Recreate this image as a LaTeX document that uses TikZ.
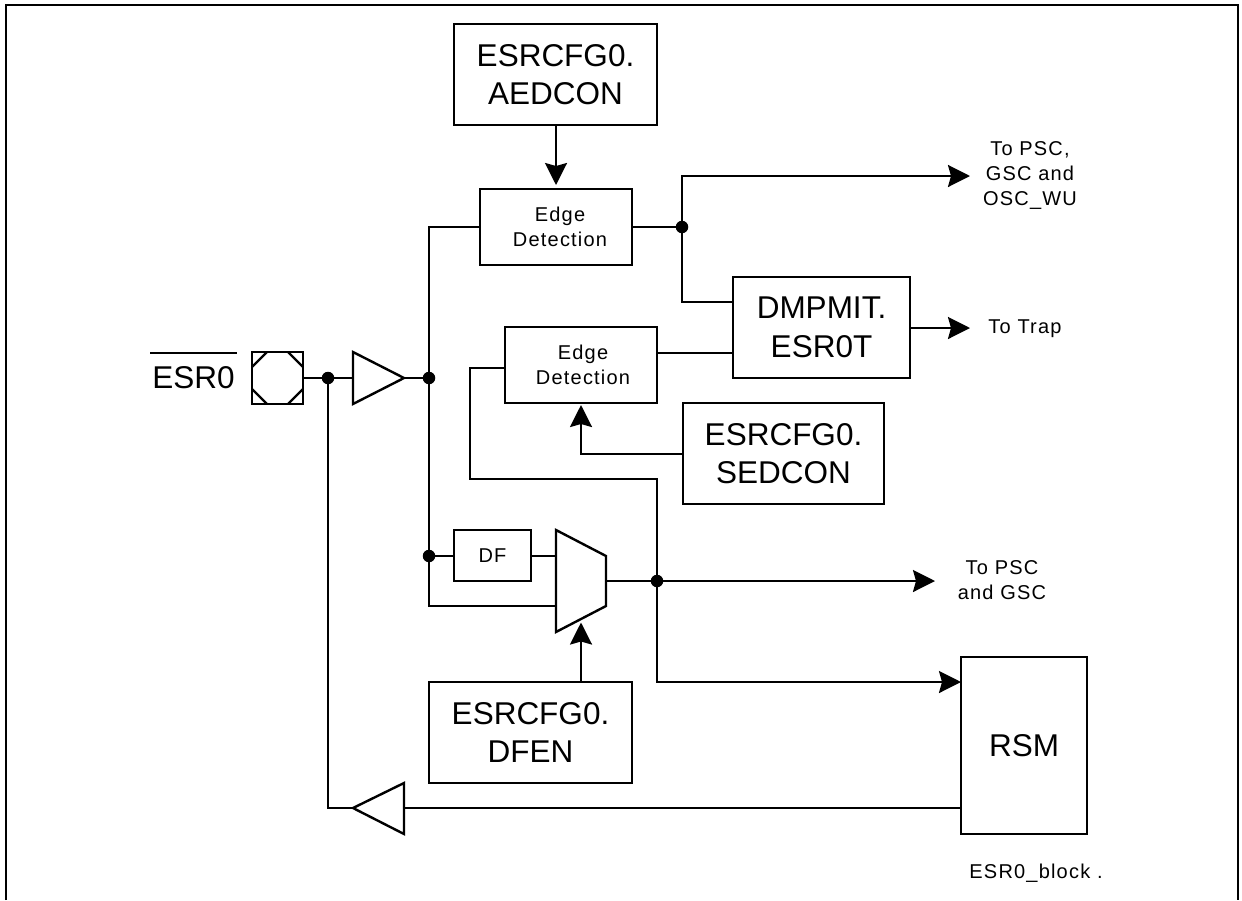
\documentclass[tikz,border=0pt]{standalone}
\usepackage{fontspec}
\setmainfont{Liberation Sans}
\newfontfamily\spaced[LetterSpace=6]{Liberation Sans}
\usetikzlibrary{arrows.meta,calc}
\newcommand{\bigtxt}{\fontsize{31.5}{38.5}\selectfont}
\newcommand{\smalltxt}{\spaced\fontsize{20}{25}\selectfont}
\tikzset{
  x=1pt,y=-1pt,
  wire/.style={draw=black,line width=2.4pt,line join=miter},
  arr/.style={wire,-{Stealth[length=22pt,width=22pt,inset=3pt]}},
  bx/.style={draw=black,line width=2.4pt,align=center,inner sep=0pt,outer sep=0pt},
  bigbox/.style={bx,font=\bigtxt},
  smallbox/.style={bx,font=\smalltxt},
  lbl/.style={align=center,inner sep=0pt,font=\smalltxt},
  dot/.style={circle,fill=black,draw=none,minimum size=12.5pt,inner sep=0pt,outer sep=0pt},
}
\newcommand{\boxat}[7]{\node[#1,minimum width=#5pt-#4pt,minimum height=#7pt-#6pt] (#2) at ({(#4+#5)/2},{(#6+#7)/2}) {#3};}
\begin{document}
\begin{tikzpicture}
\useasboundingbox (0,0) rectangle (1242,900);
% frame
\coordinate (fbl) at (6,900);
\coordinate (ftl) at (6,5);
\coordinate (ftr) at (1238,5);
\coordinate (fbr) at (1238,900);
\draw[wire] (fbl) -- (ftl) -- (ftr) -- (fbr);
% boxes
\boxat{bigbox}{aed}{ESRCFG0.\\AEDCON}{454}{657}{24}{125}
\boxat{smallbox}{edgea}{\hspace*{8pt}Edge\\\hspace*{8pt}Detection}{480}{632}{189}{265}
\boxat{smallbox}{edgeb}{\hspace*{4pt}Edge\\\hspace*{4pt}Detection}{505}{657}{327}{403}
\boxat{bigbox}{dmp}{DMPMIT.\\ESR0T}{733}{910}{277}{378}
\boxat{bigbox}{sed}{ESRCFG0.\\SEDCON}{683}{884}{403}{504}
\boxat{bigbox}{dfen}{ESRCFG0.\\DFEN}{429}{632}{682}{783}
\boxat{bigbox}{rsm}{RSM}{961}{1087}{657}{834}
\boxat{smallbox}{df}{DF}{454}{531}{530}{581}
% label ESR0
\node[inner sep=0pt,font=\fontsize{31.5}{33}\selectfont] (esr) at (193.5,378) {ESR0};
\coordinate (barl) at (150,353);
\coordinate (barr) at (237,353);
\draw[wire] (barl) -- (barr);
% pad
\coordinate (pa) at (252,352);
\coordinate (pb) at (303,352);
\coordinate (pc) at (303,404);
\coordinate (pd) at (252,404);
\draw[wire] (pa) -- (pb) -- (pc) -- (pd) -- cycle;
\draw[wire] (267,352) -- (252,367) (288,352) -- (303,367) (303,389) -- (288,404) (252,389) -- (267,404);
\coordinate (padout) at (303,378);
% buffers
\coordinate (bufi) at (353,378);
\coordinate (bufo) at (404,378);
\draw[wire] (353,352) -- (bufo) -- (353,404) -- cycle;
\coordinate (rbufo) at (353,808);
\coordinate (rbufi) at (404,808);
\draw[wire] (404,783) -- (rbufo) -- (404,834) -- cycle;
% mux
\coordinate (mui) at (556,556);
\coordinate (muj) at (556,606);
\coordinate (muo) at (606,581);
\draw[wire] (556,530) -- (606,556) -- (606,606) -- (556,632) -- cycle;
% junctions
\node[dot] (j1) at (328,378) {};
\node[dot] (j2) at (429,378) {};
\node[dot] (j3) at (429,556) {};
\node[dot] (j4) at (682,227) {};
\node[dot] (j5) at (657,581) {};
% free ends
\coordinate (tpsc) at (970,176);
\coordinate (ttrap) at (970,328);
\coordinate (tgsc) at (935,581);
\coordinate (mid) at (657,479);
\coordinate (midl) at (470,479);
\coordinate (ebin) at (edgeb.west |- 0,368);
\coordinate (dmpa) at (dmp.west |- 0,302);
\coordinate (dmpb) at (dmp.west |- 0,353);
\coordinate (sedp) at (sed.west |- 0,454);
\coordinate (rsmin) at (rsm.west |- 0,682);
\coordinate (muxs) at (581,622.5);
\coordinate (aedt) at (556,185);
\coordinate (sedt) at (581,405);
% wires
\draw[wire] (padout) -- (j1) -- (bufi);
\draw[wire] (bufo) -- (j2);
\draw[wire] (j1) |- (rbufo);
\draw[wire] (rbufi) -- (rbufi -| rsm.west);
\draw[wire] (edgea.west) -| (j2);
\draw[wire] (j2) -- (j3) |- (muj);
\draw[wire] (j3) -- (j3 -| df.west);
\draw[wire] (mui -| df.east) -- (mui);
\draw[wire] (edgea.east) -- (j4);
\draw[arr] (j4) |- (tpsc);
\draw[wire] (j4) |- (dmpa);
\draw[wire] (edgeb.east |- dmpb) -- (dmpb);
\draw[arr] (dmp.east |- ttrap) -- (ttrap);
\draw[arr] (aed.south -| aedt) -- (aedt);
\draw[arr] (sedp) -| (sedt);
\draw[wire] (ebin) -| (midl) -- (mid) -- (j5);
\draw[wire] (muo) -- (j5);
\draw[arr] (j5) -- (tgsc);
\draw[arr] (j5) |- (rsmin);
\draw[arr] (dfen.north -| muxs) -- (muxs);
% labels
\node[lbl] (l1) at (1030,176) {To PSC,\\GSC and\\OSC\_WU};
\node[lbl] (l2) at (1025,329) {To Trap};
\node[lbl] (l3) at (1002,580) {To PSC\\and GSC};
\node[lbl] (l4) at (1036,873) {ESR0\_block .};
\end{tikzpicture}
\end{document}
